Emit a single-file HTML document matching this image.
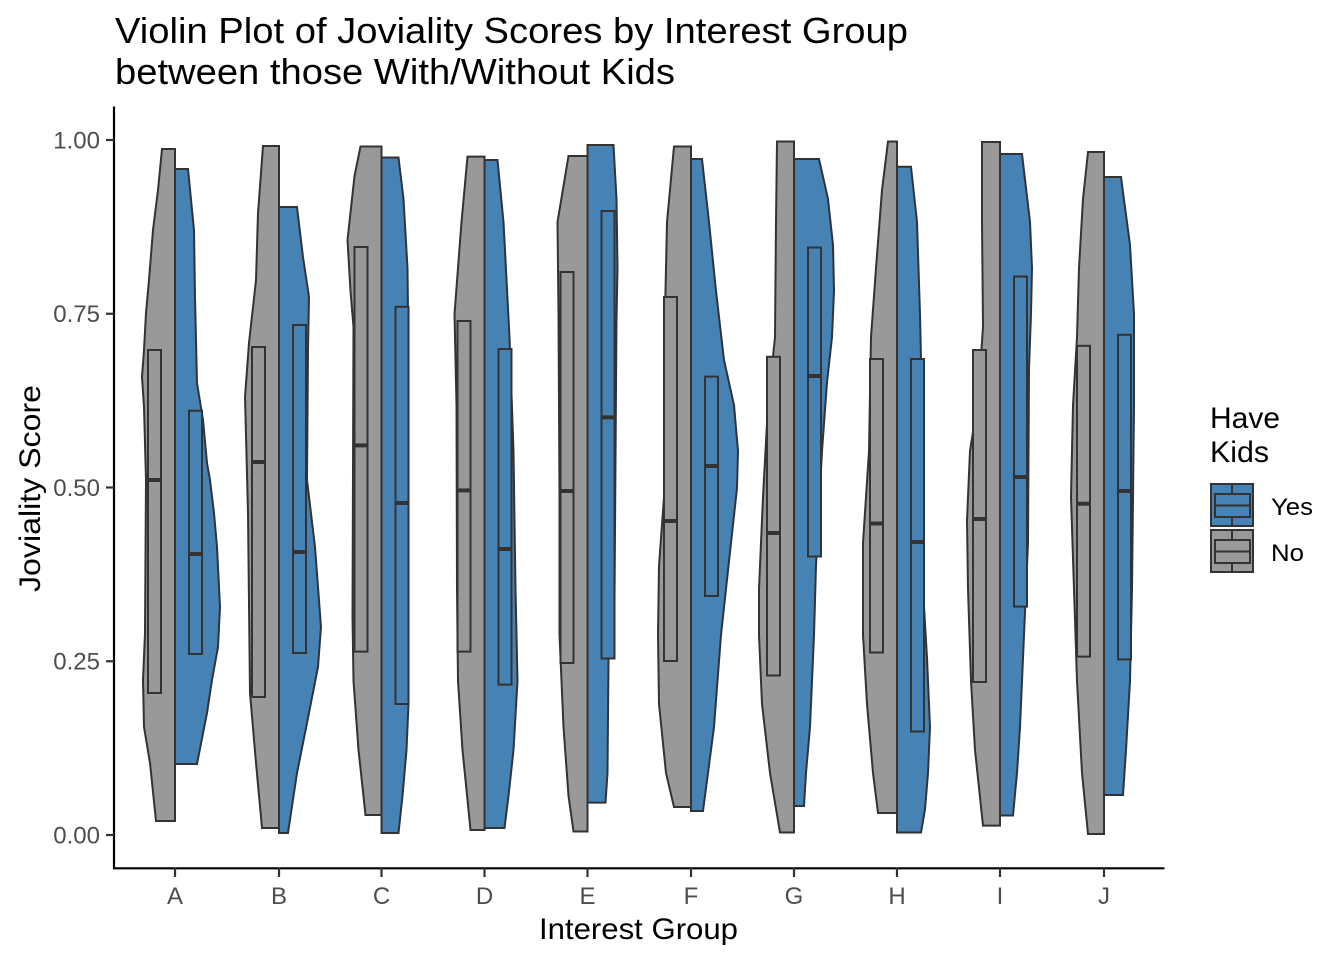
<!DOCTYPE html>
<html>
<head>
<meta charset="utf-8">
<style>
html,body{margin:0;padding:0;background:#fff;}
svg{display:block;}
text{font-family:"Liberation Sans",Arial,sans-serif;}
</style>
</head>
<body>
<svg width="1344" height="960" viewBox="0 0 1344 960" xmlns="http://www.w3.org/2000/svg">
<rect width="1344" height="960" fill="#fff"/>
<!-- Title -->
<text x="115" y="43" font-size="36" fill="#000" textLength="793" lengthAdjust="spacingAndGlyphs">Violin Plot of Joviality Scores by Interest Group</text>
<text x="115" y="84" font-size="36" fill="#000" textLength="560" lengthAdjust="spacingAndGlyphs">between those With/Without Kids</text>

<!-- Violins -->
<g stroke="#333" stroke-width="2" stroke-linejoin="miter">
<g fill="#999999">
<polygon points="175,149 162,149 158,190 153,230 149,280 146,313 144,350 142,377 144,407 146,480 145,633 143,680 144,727 150,763 156,821 175,821"/>
<polygon points="279,146 263,146 258,213 256,280 249,343 245,397 248,513 250,693 256,763 262,828 279,828"/>
<polygon points="381.5,146.5 360.5,146.5 354.5,176 347.5,240 350.5,291 353.5,327 352.5,617 353.5,681 358.5,750 365.5,815 381.5,815"/>
<polygon points="484.5,156.6 467.5,156.6 461.5,222 454.5,314 456.5,405 457,589 458,681 462.5,750 470.5,830 484.5,830"/>
<polygon points="587.5,156 568.5,156 557.5,222 558.5,314 559.5,497 559.5,635 563.5,727 568.5,796 573.5,831.5 587.5,831.5"/>
<polygon points="691,146.5 674,146.5 667,222 665,314 664,497 659,566 658,635 659,704 666,773 674,807 691,807"/>
<polygon points="794,141.5 777,141.5 776,222 775,337 768,405 763,497 759,589 759,635 762,704 770,773 780,832.5 794,832.5"/>
<polygon points="897,141.5 888,141.5 882,190 876,268 871,337 869,451 863,543 863,635 867,704 873,773 878,813 897,813"/>
<polygon points="1000,142 982,142 982,222 983,327 978,400 970,451 967,520 968,589 971,681 975,750 983,825.6 1000,825.6"/>
<polygon points="1104,152 1088,152 1083,199 1079,268 1077,337 1073,405.5 1071,497 1074,589 1077,681 1082,773 1088,834 1104,834"/>
</g>
<g fill="#4682B4">
<polygon points="175,169 188,169 194,230 195,297 197,383 203,420 207,463 210,480 214,513 217,547 220,607 218,647 212,680 207,713 197,764 175,764"/>
<polygon points="279,207 297,207 303,257 309,297 308,350 307,480 315,547 321,627 318,667 307,723 297,773 288,833 279,833"/>
<polygon points="381.5,157.5 398.5,157.5 403.5,199 407.5,268 408.5,360 408.5,704 406.5,750 402.5,796 398.5,833 381.5,833"/>
<polygon points="484.5,160 497.5,160 503.5,222 509.5,337 513.5,451 515.5,589 517.5,681 513.5,750 508.5,796 504.5,828 484.5,828"/>
<polygon points="587.5,145 613.5,145 616.5,199 617.5,268 616.5,320 614.5,600 608.5,660 607.5,773 605.5,802.6 587.5,802.6"/>
<polygon points="691,159 702,159 709,222 716,291 724,360 734,405 738,451 737,488 731,543 721,635 714,727 708,773 703,811 691,811"/>
<polygon points="794,159 819,159 828,199 833,245 834,291 832,337 827,382.5 822,451 816,566 814,635 810,727 806,773 804,806 794,806"/>
<polygon points="897,166.7 911,166.7 917,222 920,314 923,451 923,589 927,658 930,727 928,773 925,809.5 921,832.5 897,832.5"/>
<polygon points="1000,154 1022,154 1030,222 1032,268 1031,314 1029,369 1028,543 1024,635 1020,727 1017,773 1013,815.5 1000,815.5"/>
<polygon points="1104,177 1121,177 1130,245 1134,314 1134,405 1133,497 1132,589 1130,681 1126,750 1123,795 1104,795"/>
</g>
</g>

<!-- Boxes -->
<g stroke="#333" stroke-width="2">
<g fill="#999999">
<rect x="148" y="350" width="13" height="343"/>
<rect x="252" y="347" width="13" height="350"/>
<rect x="354.5" y="247" width="13" height="404.6"/>
<rect x="457.5" y="321" width="13" height="330.6"/>
<rect x="560.5" y="272" width="13" height="391"/>
<rect x="664" y="297" width="13" height="364"/>
<rect x="767" y="356.8" width="13" height="318.7"/>
<rect x="870" y="359" width="13" height="293.5"/>
<rect x="973" y="350" width="13" height="332"/>
<rect x="1077" y="345.8" width="13" height="310.8"/>
</g>
<g fill="#4682B4">
<rect x="189" y="410.7" width="13" height="243.3"/>
<rect x="293" y="325" width="13" height="328"/>
<rect x="395.5" y="306.8" width="13" height="397.2"/>
<rect x="498.5" y="349" width="13" height="335.6"/>
<rect x="601.5" y="211" width="13" height="447.5"/>
<rect x="705" y="376.6" width="13" height="219.4"/>
<rect x="808" y="247.5" width="13" height="309"/>
<rect x="911" y="359" width="13" height="372.5"/>
<rect x="1014" y="276.5" width="13" height="330.1"/>
<rect x="1118" y="334.8" width="13" height="324.6"/>
</g>
</g>
<!-- Medians -->
<g stroke="#333" stroke-width="4">
<line x1="148" y1="480" x2="161" y2="480"/>
<line x1="252" y1="462" x2="265" y2="462"/>
<line x1="354.5" y1="445.4" x2="367.5" y2="445.4"/>
<line x1="457.5" y1="490.4" x2="470.5" y2="490.4"/>
<line x1="560.5" y1="491" x2="573.5" y2="491"/>
<line x1="664" y1="521" x2="677" y2="521"/>
<line x1="767" y1="533" x2="780" y2="533"/>
<line x1="870" y1="523.5" x2="883" y2="523.5"/>
<line x1="973" y1="519" x2="986" y2="519"/>
<line x1="1077" y1="503.7" x2="1090" y2="503.7"/>
<line x1="189" y1="554" x2="202" y2="554"/>
<line x1="293" y1="552" x2="306" y2="552"/>
<line x1="395.5" y1="503" x2="408.5" y2="503"/>
<line x1="498.5" y1="549" x2="511.5" y2="549"/>
<line x1="601.5" y1="417.4" x2="614.5" y2="417.4"/>
<line x1="705" y1="466" x2="718" y2="466"/>
<line x1="808" y1="376" x2="821" y2="376"/>
<line x1="911" y1="542" x2="924" y2="542"/>
<line x1="1014" y1="477" x2="1027" y2="477"/>
<line x1="1118" y1="491" x2="1131" y2="491"/>
</g>

<!-- Axes -->
<g stroke="#000" stroke-width="2.2">
<line x1="114" y1="106.5" x2="114" y2="869"/>
<line x1="113" y1="868.3" x2="1164.5" y2="868.3"/>
</g>
<g stroke="#333" stroke-width="2.2">
<line x1="106" y1="140" x2="114" y2="140"/>
<line x1="106" y1="313.75" x2="114" y2="313.75"/>
<line x1="106" y1="487.5" x2="114" y2="487.5"/>
<line x1="106" y1="661.25" x2="114" y2="661.25"/>
<line x1="106" y1="835" x2="114" y2="835"/>
<line x1="175" y1="868" x2="175" y2="877"/>
<line x1="279" y1="868" x2="279" y2="877"/>
<line x1="381.5" y1="868" x2="381.5" y2="877"/>
<line x1="484.5" y1="868" x2="484.5" y2="877"/>
<line x1="587.5" y1="868" x2="587.5" y2="877"/>
<line x1="691" y1="868" x2="691" y2="877"/>
<line x1="794" y1="868" x2="794" y2="877"/>
<line x1="897" y1="868" x2="897" y2="877"/>
<line x1="1000" y1="868" x2="1000" y2="877"/>
<line x1="1104" y1="868" x2="1104" y2="877"/>
</g>
<g font-size="24" fill="#4D4D4D" text-anchor="end">
<text x="100" y="148.5">1.00</text>
<text x="100" y="322.2">0.75</text>
<text x="100" y="496">0.50</text>
<text x="100" y="669.7">0.25</text>
<text x="100" y="843.5">0.00</text>
</g>
<g font-size="24" fill="#4D4D4D" text-anchor="middle">
<text x="175" y="904">A</text>
<text x="279" y="904">B</text>
<text x="381.5" y="904">C</text>
<text x="484.5" y="904">D</text>
<text x="587.5" y="904">E</text>
<text x="691" y="904">F</text>
<text x="794" y="904">G</text>
<text x="897" y="904">H</text>
<text x="1000" y="904">I</text>
<text x="1104" y="904">J</text>
</g>
<text x="539" y="939" font-size="30" fill="#000" textLength="199" lengthAdjust="spacingAndGlyphs">Interest Group</text>
<text transform="translate(40,592) rotate(-90)" font-size="30" fill="#000" textLength="207" lengthAdjust="spacingAndGlyphs">Joviality Score</text>

<!-- Legend -->
<text x="1210" y="428" font-size="30" fill="#000" textLength="70" lengthAdjust="spacingAndGlyphs">Have</text>
<text x="1210" y="462" font-size="30" fill="#000" textLength="59" lengthAdjust="spacingAndGlyphs">Kids</text>
<g stroke="#333" stroke-width="2">
<rect x="1211" y="484" width="42" height="42" fill="#4682B4"/>
<line x1="1232" y1="484" x2="1232" y2="526"/>
<rect x="1215" y="494" width="35" height="23" fill="#4682B4"/>
<line x1="1215" y1="505.5" x2="1250" y2="505.5"/>
<rect x="1211" y="530" width="42" height="42" fill="#999999"/>
<line x1="1232" y1="530" x2="1232" y2="572"/>
<rect x="1215" y="540" width="35" height="23" fill="#999999"/>
<line x1="1215" y1="551.5" x2="1250" y2="551.5"/>
</g>
<text x="1271" y="515" font-size="24" fill="#000" textLength="42" lengthAdjust="spacingAndGlyphs">Yes</text>
<text x="1271" y="561" font-size="24" fill="#000" textLength="33" lengthAdjust="spacingAndGlyphs">No</text>
</svg>
</body>
</html>
